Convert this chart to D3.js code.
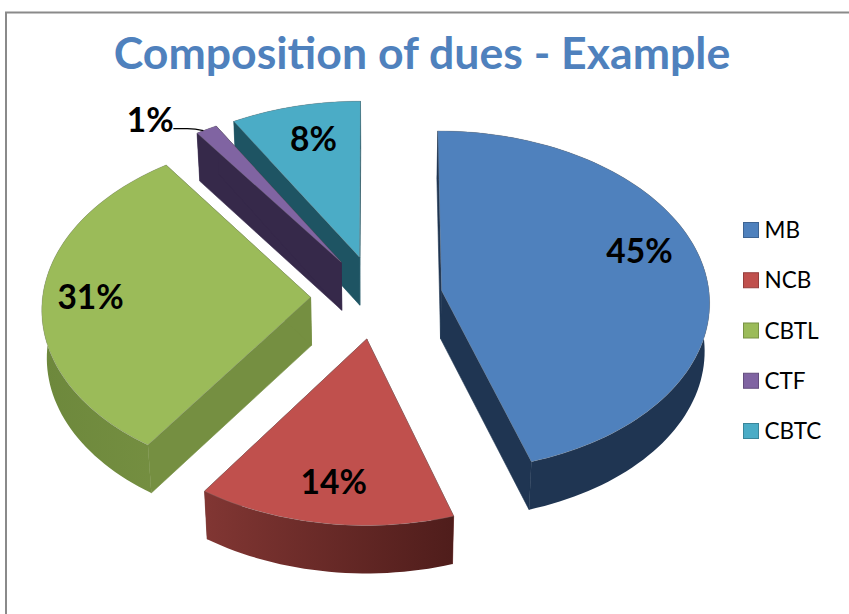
<!DOCTYPE html>
<html>
<head>
<meta charset="utf-8">
<style>
	html, body { margin: 0; padding: 0; background: #fff; }
	svg { display: block; }
</style>
<script src="https://cdn.jsdelivr.net/npm/d3@7"></script>
</head>
<body>
<div id="chart"></div>
<script>
// chart data
const titleText = 'Composition of dues - Example';
const categories = ['MB', 'NCB', 'CBTL', 'CTF', 'CBTC'];
const shares = [45.1, 14.45, 30.65, 1.4, 8.4];

// colours per slice: top face, radial faces, rim from left to right
const topColors = ['#4f81bd', '#c0504d', '#9bbb59', '#8064a2', '#4bacc6'];
const sideColors = ['#1f3552', '#6b2a28', '#758f41', '#36294a', '#1e5463'];
const rimLeftColors = ['#1f3552', '#813633', '#6d883c', '#36294a', '#1e5463'];
const rimRightColors = ['#1f3552', '#4f1d1b', '#758f41', '#36294a', '#1e5463'];

const width = 849,
	height = 614;

// pie layout on a unit disc, tilted with a small perspective
const center = { x: 376.5, y: 297 },
	radiusX = 268,
	radiusY = 170,
	perspective = 0.06,
	explode = 0.246,
	depth = 48;

const xScale = d3.scaleLinear().domain([-1, 1]).range([center.x - radiusX, center.x + radiusX]);
const yScale = d3.scaleLinear().domain([-1, 1]).range([center.y + radiusY, center.y - radiusY]);

const project = (u, v, z) => {
	const w = 1 + perspective * v;
	return [xScale((u / w) * (1 - 0.015 * z)), yScale(v / w) + z * depth];
};

const svg = d3.select('#chart').append('svg').attr('width', width).attr('height', height);
svg.append('rect').attr('width', width).attr('height', height).attr('fill', '#fff');
const defs = svg.append('defs');

// chart frame, cut off by the picture on the right and at the bottom
svg
	.append('path')
	.attr('d', `M6,${height}V12.5H${width}`)
	.attr('fill', 'none')
	.attr('stroke', '#8a8a8a')
	.attr('stroke-width', 2);

svg
	.append('text')
	.attr('x', 422)
	.attr('y', 68.5)
	.attr('text-anchor', 'middle')
	.style('font', 'bold 44.6px Lato')
	.attr('fill', '#4f81bd')
	.text(titleText);

const pie = d3
	.pie()
	.sort(null)
	.value((d) => d);
const arcs = pie(shares);

const slices = arcs.map((a, i) => {
	const mid = (a.startAngle + a.endAngle) / 2;
	const ou = explode * Math.sin(mid),
		ov = explode * Math.cos(mid);
	const steps = Math.max(2, Math.ceil((a.endAngle - a.startAngle) / 0.03));
	const angles = d3.range(steps + 1).map((s) => a.startAngle + ((a.endAngle - a.startAngle) * s) / steps);
	const rim = (z) => angles.map((t) => project(ou + Math.sin(t), ov + Math.cos(t), z));
	return { i, apex: (z) => project(ou, ov, z), rim };
});

const line = d3.line().curve(d3.curveLinear);
const drawOrder = [4, 3, 2, 0, 1];

drawOrder.forEach((i) => {
	const s = slices[i];
	const g = svg.append('g');
	const topRim = s.rim(0),
		lowRim = s.rim(1);
	const a0 = s.apex(0),
		a1 = s.apex(1);

	// radial faces
	[0, topRim.length - 1].forEach((e) => {
		g.append('path')
			.attr('d', line([a0, topRim[e], lowRim[e], a1]) + 'Z')
			.attr('fill', sideColors[i])
			.attr('stroke', sideColors[i])
			.attr('stroke-width', 0.6);
	});

	// rim, shaded along x
	const [x0, x1] = d3.extent(topRim, (p) => p[0]);
	const grad = defs
		.append('linearGradient')
		.attr('id', 'rim-' + i)
		.attr('gradientUnits', 'userSpaceOnUse')
		.attr('x1', x0)
		.attr('x2', x1)
		.attr('y1', 0)
		.attr('y2', 0);
	grad.append('stop').attr('offset', 0).attr('stop-color', rimLeftColors[i]);
	grad.append('stop').attr('offset', 1).attr('stop-color', rimRightColors[i]);
	g.append('path')
		.attr('d', line([...topRim, ...lowRim.slice().reverse()]) + 'Z')
		.attr('fill', `url(#rim-${i})`);

	// top face
	g.append('path')
		.attr('d', line([a0, ...topRim]) + 'Z')
		.attr('fill', topColors[i])
		.attr('stroke', '#7f7f7f')
		.attr('stroke-opacity', 0.3)
		.attr('stroke-width', 1);
});

// value labels, placed relative to each slice's apex
const labelOffsets = [
	[198, -39],
	[-33, 143],
	[-220, 0],
	[-191, -142],
	[-46, -118],
];
slices.forEach((s, i) => {
	const [ax, ay] = s.apex(0);
	svg
		.append('text')
		.attr('x', ax + labelOffsets[i][0])
		.attr('y', ay + labelOffsets[i][1])
		.attr('dy', '0.35em')
		.attr('text-anchor', 'middle')
		.style('font', 'bold 33.5px Lato')
		.attr('fill', '#000')
		.text(Math.round(shares[i]) + '%');
});

// leader line for the small slice
const ctfEnd = slices[3].rim(0)[1];
svg
	.append('path')
	.attr('d', `M${ctfEnd[0] - 30},${ctfEnd[1] - 2}h14Q${ctfEnd[0] - 8},${ctfEnd[1] - 2} ${ctfEnd[0]},${ctfEnd[1]}`)
	.attr('fill', 'none')
	.attr('stroke', '#000')
	.attr('stroke-width', 1.2);

// legend
const legendY = d3.scalePoint().domain(categories).range([230, 431]);
const legend = svg
	.selectAll('.legend')
	.data(categories)
	.join('g')
	.attr('class', 'legend')
	.attr('transform', (d) => `translate(743,${legendY(d)})`);
legend
	.append('rect')
	.attr('x', 0.5)
	.attr('y', -7.5)
	.attr('width', 15)
	.attr('height', 15)
	.attr('fill', (d, i) => topColors[i])
	.attr('stroke', (d, i) => d3.color(topColors[i]).darker(0.7));
legend
	.append('text')
	.attr('x', 21.5)
	.attr('dy', '0.36em')
	.style('font', '22.5px Lato')
	.attr('fill', '#000')
	.text((d) => d);
</script>
</body>
</html>
